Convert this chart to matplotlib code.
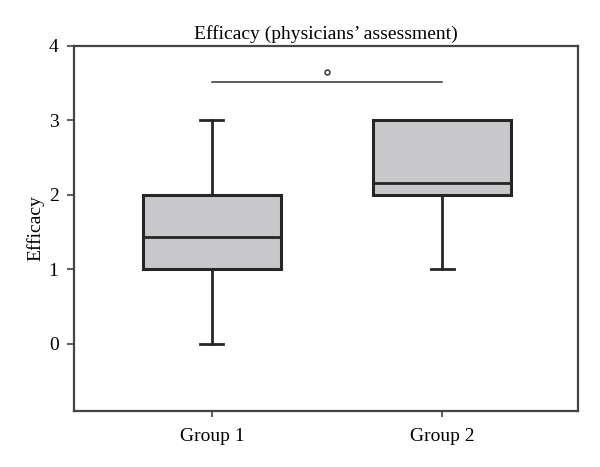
import matplotlib.pyplot as plt

# data
groups = ["Group 1", "Group 2"]
q1 = [1.0, 2.0]
medians = [1.43, 2.16]
q3 = [2.0, 3.0]
whisker_low = [0.0, 1.0]
whisker_high = [3.0, 3.0]
sig_pair = [1, 2]
sig_level = 3.52

plt.rcParams['font.family'] = ['Liberation Serif', 'DejaVu Serif']

fig = plt.figure(figsize=(6, 4.67), dpi=100)
ax = fig.add_axes([0.123, 0.12, 0.84, 0.782])

stats = []
for i, name in enumerate(groups):
    stats.append({
        "label": name, "q1": q1[i], "med": medians[i], "q3": q3[i],
        "whislo": whisker_low[i], "whishi": whisker_high[i], "fliers": [],
    })

edge = "#262626"
ax.bxp(stats, positions=[1, 2], widths=0.6, patch_artist=True, showfliers=False,
       boxprops=dict(facecolor="#c8c8ca", edgecolor=edge, linewidth=2.2),
       medianprops=dict(color=edge, linewidth=2),
       whiskerprops=dict(color=edge, linewidth=2),
       capprops=dict(color=edge, linewidth=2), capwidths=0.1)

# significance bar
ax.plot(sig_pair, [sig_level, sig_level], color="#333333", linewidth=1.1)
ax.plot([sum(sig_pair) / 2], [sig_level + 0.13], marker="o", markersize=3.5,
        markerfacecolor="white", markeredgecolor="#333333", markeredgewidth=1.1)

ax.set_xlim(0.4, 2.59)
ax.set_ylim(-0.9, 4)
ax.set_yticks([0, 1, 2, 3, 4])
ax.set_xticks([1, 2])
ax.set_xticklabels(groups)
ax.set_ylabel("Efficacy", fontsize=14, labelpad=3)
ax.set_title("Efficacy (physicians’ assessment)", fontsize=14, pad=5)
ax.tick_params(labelsize=14, width=1.2, color="#444444")
ax.tick_params(axis="y", length=5, pad=6)
ax.tick_params(axis="x", length=4, pad=8)
for s in ax.spines.values():
    s.set_linewidth(1.6)
    s.set_color("#444444")

plt.savefig("out.png", dpi=100)
